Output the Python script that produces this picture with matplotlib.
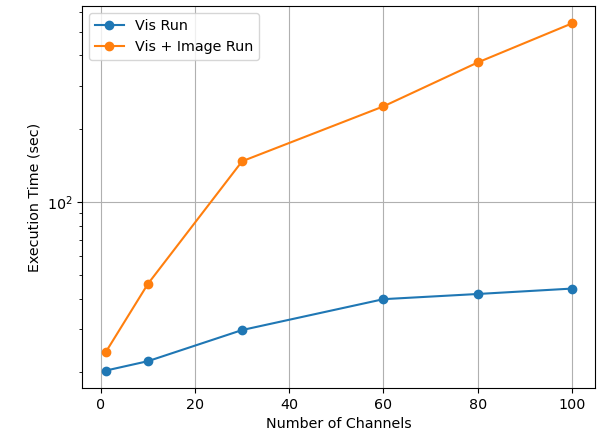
import matplotlib
matplotlib.use("Agg")
import matplotlib.pyplot as plt

plt.rcParams["font.size"] = 10.3

# channel counts and measured run times (seconds)
channels = [1, 10, 30, 60, 80, 100]
vis_run = [20.3, 22.2, 29.8, 39.9, 41.9, 44.1]
vis_image_run = [24.1, 46.1, 147, 247, 374, 541]

fig, ax = plt.subplots(figsize=(6.0, 4.34), dpi=100)
fig.subplots_adjust(left=0.137, right=0.992, top=0.986, bottom=0.106)

ax.plot(channels, vis_run, marker="o", label="Vis Run")
ax.plot(channels, vis_image_run, marker="o", label="Vis + Image Run")

ax.set_yscale("log")
ax.set_xlabel("Number of Channels")
ax.set_ylabel("Execution Time (sec)")
ax.grid(True)
ax.legend(loc="upper left")

fig.savefig("out.png", dpi=100)
